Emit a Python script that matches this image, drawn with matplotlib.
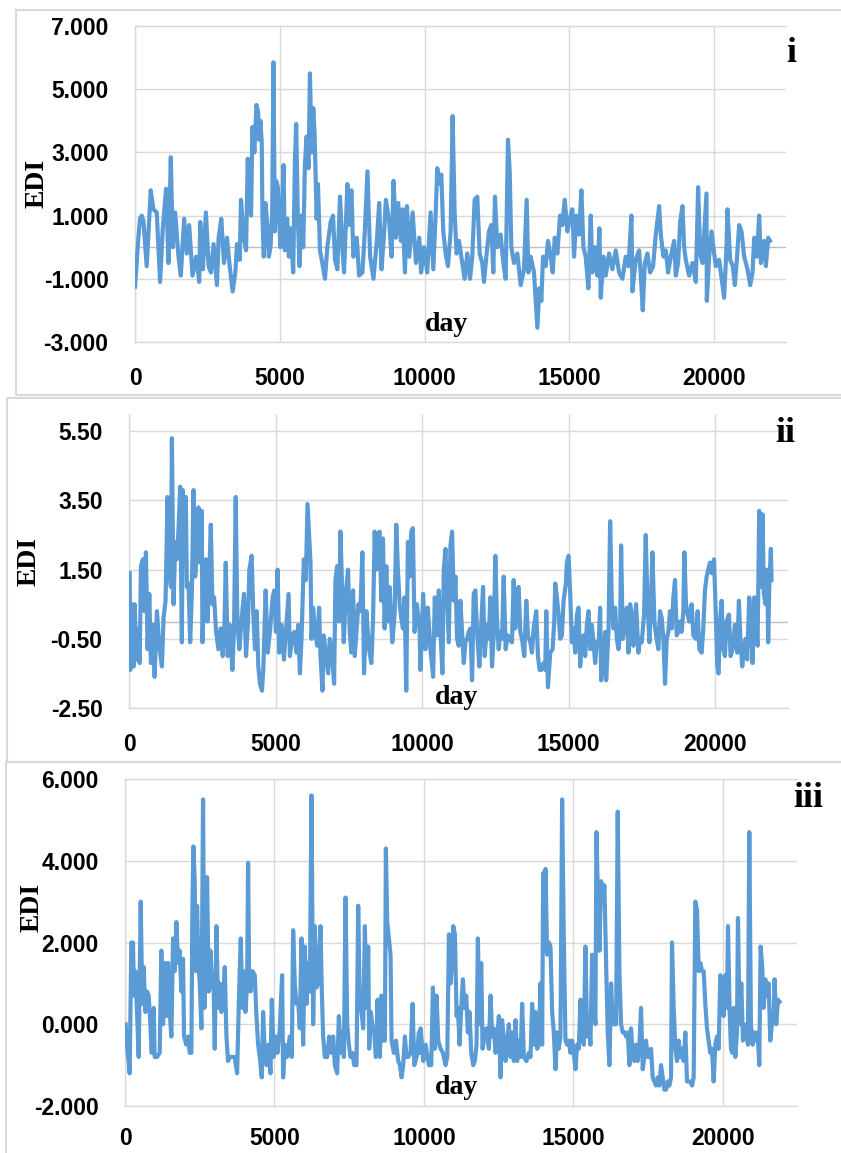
import matplotlib
matplotlib.use('Agg')
import matplotlib.pyplot as plt
from matplotlib.patches import Rectangle

# (day, EDI) pairs
edi_i = [
    (0, -1.25), (116, 0.3), (173, 0.9), (231, 1.0), (289, 0.85), (404, -0.6), (543, 1.8), (635, 1.2), (751, 1.1), (866, -1.1),
    (959, 0.6), (1074, 1.85), (1155, -0.5), (1236, 2.85), (1305, 0.0), (1386, 1.1), (1502, -0.3), (1582, -0.9), (1698, 0.9), (1790, -0.2),
    (1871, 0.7), (1987, -0.9), (2114, -0.3), (2218, -1.1), (2252, 0.8), (2345, -0.7), (2449, 1.1), (2541, -0.6), (2622, -0.8), (2714, 0.1),
    (2830, -1.2), (2888, 0.3), (2980, 0.9), (3073, -0.5), (3176, 0.3), (3269, -0.6), (3373, -1.4), (3465, -0.8), (3523, 0.1), (3615, -0.4),
    (3661, 1.5), (3754, 0.3), (3835, -0.1), (3892, 2.8), (3962, 1.5), (4008, 1.0), (4054, 3.8), (4123, 3.0), (4193, 4.5), (4250, 4.3),
    (4285, 3.4), (4331, 4.0), (4377, 3.3), (4401, 1.0), (4447, -0.3), (4505, 1.4), (4562, 0.8), (4620, -0.3), (4678, 0.0), (4736, 1.0),
    (4782, 5.85), (4828, 0.5), (4874, 2.1), (4932, 1.9), (4978, 0.8), (5024, 0.0), (5082, 1.2), (5128, 2.6), (5174, -0.1), (5255, 0.9),
    (5313, -0.3), (5371, 0.6), (5463, -0.8), (5521, 2.7), (5567, 3.9), (5625, 0.8), (5683, -0.6), (5740, 1.0), (5810, 0.0), (5867, 2.6),
    (5925, 3.5), (5994, 2.5), (6041, 5.5), (6098, 3.0), (6156, 4.4), (6202, 3.6), (6272, 0.9), (6318, 2.0), (6387, -0.1), (6468, -0.5),
    (6560, -1.0), (6641, 0.0), (6757, 0.8), (6838, 1.0), (6907, -0.4), (6988, -0.7), (7080, 1.6), (7161, 0.0), (7219, -0.8), (7334, 2.0),
    (7392, 0.7), (7473, 1.8), (7542, -0.3), (7658, 0.3), (7739, -0.9), (7854, -0.8), (7935, 0.5), (8027, 2.4), (8120, -0.3), (8235, -1.0),
    (8351, 0.2), (8432, 1.4), (8512, -0.7), (8605, 0.5), (8663, 1.5), (8778, 0.8), (8859, -0.3), (8928, 2.1), (9009, 0.3), (9090, 1.4),
    (9182, 0.2), (9240, 1.2), (9321, -0.8), (9390, 1.3), (9471, -0.3), (9587, 1.1), (9702, -0.5), (9818, 0.3), (9880, -0.8), (9977, 0.0),
    (10092, -0.8), (10207, 1.1), (10300, -0.7), (10380, 1.0), (10438, 2.5), (10495, 2.0), (10576, 2.3), (10645, 0.5), (10726, -0.2), (10806, -0.6),
    (10899, 0.5), (10968, 4.15), (11037, 1.1), (11106, -0.2), (11187, 0.2), (11302, -0.5), (11382, -1.0), (11475, -0.2), (11567, -1.0), (11647, -0.3),
    (11728, 1.5), (11820, 1.6), (11901, -0.2), (11993, -0.5), (12051, -1.1), (12143, -0.2), (12223, 0.5), (12304, 0.7), (12373, -0.8), (12431, 1.6),
    (12511, 0.0), (12627, 0.4), (12719, -0.5), (12799, -1.0), (12880, 3.4), (12938, 2.4), (12995, 0.0), (13087, -0.5), (13203, -0.2), (13318, -1.2),
    (13433, -0.7), (13525, 1.5), (13583, -0.8), (13663, -0.3), (13779, -0.8), (13894, -2.55), (13963, -1.3), (14032, -1.7), (14090, -0.3), (14182, -0.6),
    (14262, 0.2), (14355, -0.3), (14424, -0.8), (14493, 0.3), (14585, -0.2), (14677, 1.0), (14758, 0.7), (14838, 1.5), (14931, 0.5), (15011, 0.9),
    (15103, 1.2), (15161, -0.3), (15242, 1.0), (15334, 0.4), (15414, 1.8), (15484, 0.0), (15564, -0.3), (15656, -1.3), (15737, 1.0), (15795, -0.8),
    (15875, 0.0), (15967, -0.9), (16036, 0.6), (16083, -1.6), (16175, -0.3), (16255, -0.9), (16371, -0.2), (16486, -0.7), (16601, -0.1), (16716, -0.8),
    (16831, -1.0), (16946, -0.3), (17039, -0.6), (17142, 1.0), (17177, -1.4), (17292, -0.4), (17407, -0.1), (17465, -0.9), (17534, -2.0), (17603, -0.5),
    (17695, -0.2), (17788, -0.8), (17891, -0.6), (17983, 0.4), (18099, 1.3), (18156, 0.4), (18248, -0.3), (18329, -0.1), (18410, -0.8), (18502, -0.3),
    (18617, 0.2), (18675, -0.9), (18755, -0.5), (18824, 0.8), (18905, 1.3), (18962, 0.0), (19020, -0.4), (19135, -0.9), (19251, -0.5), (19366, -1.1),
    (19446, 1.9), (19516, -0.2), (19596, -0.5), (19654, 0.4), (19734, 1.7), (19746, -1.7), (19827, -0.3), (19907, 0.5), (19999, -0.2), (20057, -0.6),
    (20172, -0.4), (20287, -1.2), (20344, -1.6), (20425, 0.0), (20459, 1.2), (20551, -0.4), (20644, -0.6), (20713, -1.2), (20782, -0.4), (20863, 0.7),
    (20944, 0.5), (21036, -0.3), (21151, -0.7), (21244, -1.2), (21324, -0.8), (21382, 0.3), (21474, -0.3), (21554, 1.0), (21612, -0.5), (21727, 0.2),
    (21785, -0.6), (21866, 0.3), (21923, 0.2),
]

edi_ii = [
    (23, 1.4), (45, -1.4), (102, 0.5), (159, -1.3), (193, 0.5), (249, -1.1), (295, -0.2), (363, -1.2), (408, 1.6), (476, 1.8),
    (522, 0.3), (578, 2.0), (635, -0.8), (692, 0.8), (748, -1.2), (816, -0.1), (873, -1.6), (953, 0.3), (1043, -0.8), (1123, -1.3),
    (1179, 0.1), (1247, 0.6), (1315, 3.6), (1372, 1.5), (1429, 1.0), (1463, 5.3), (1520, 0.5), (1576, 2.3), (1633, 1.8), (1690, 2.7),
    (1746, 3.9), (1803, -0.6), (1837, 3.8), (1894, 2.2), (1939, 3.6), (1973, 1.0), (2030, 1.1), (2087, -0.6), (2143, 0.8), (2200, 3.8),
    (2257, 1.3), (2313, 2.0), (2370, 3.3), (2427, 1.7), (2483, 3.2), (2506, -0.6), (2563, 0.9), (2620, 1.8), (2676, 0.0), (2733, 1.2),
    (2790, 2.8), (2846, 0.5), (2903, 0.7), (2971, -0.3), (3050, -0.8), (3130, -0.2), (3198, -1.0), (3255, -0.2), (3300, 1.7), (3368, -1.0),
    (3436, -0.1), (3527, -1.4), (3583, -0.2), (3640, 3.6), (3697, 0.0), (3765, -0.8), (3844, 0.1), (3924, 0.8), (3992, -1.0), (4060, 0.0),
    (4105, 1.5), (4184, 1.9), (4241, 0.2), (4298, -0.8), (4355, 0.3), (4411, -1.3), (4468, -1.8), (4536, -2.0), (4581, -1.4), (4661, 0.9),
    (4729, -0.9), (4808, -0.3), (4899, 0.7), (4956, 0.9), (5012, -0.3), (5069, 1.5), (5126, -0.9), (5205, -0.1), (5284, -1.1), (5375, 0.0),
    (5443, 0.8), (5489, -1.0), (5579, -0.4), (5636, -0.3), (5715, -0.9), (5772, -0.1), (5829, -1.5), (5885, -0.5), (5965, 1.8), (6033, 1.2),
    (6090, 3.4), (6146, 2.5), (6192, 1.7), (6226, -0.5), (6282, 0.4), (6339, -0.2), (6418, -0.7), (6486, 0.4), (6532, -1.0), (6600, -2.0),
    (6645, -0.4), (6713, -0.9), (6793, -1.5), (6849, -0.5), (6917, -0.9), (6997, -1.8), (7042, 1.2), (7099, 1.6), (7167, 0.0), (7212, 2.6),
    (7269, 1.0), (7326, -0.6), (7394, 0.8), (7473, 1.5), (7530, -0.3), (7586, -0.9), (7643, 0.9), (7700, -1.0), (7757, -0.3), (7825, 0.5),
    (7893, 0.3), (7961, 2.0), (8017, -1.5), (8097, 0.3), (8187, -0.8), (8267, -1.2), (8324, 0.0), (8380, 2.6), (8437, 1.5), (8494, 2.5),
    (8550, 2.6), (8607, 0.6), (8664, 2.4), (8720, -0.2), (8777, 1.6), (8834, 0.0), (8891, 1.0), (8981, -0.6), (9061, 0.2), (9117, 2.8),
    (9174, 1.5), (9231, 0.5), (9287, 0.1), (9344, -0.2), (9401, 0.7), (9457, -2.0), (9514, 2.3), (9571, 1.3), (9628, 2.6), (9684, 2.7),
    (9741, -0.3), (9820, 0.5), (9911, -0.2),
    (9943, -1.4), (10034, 0.8), (10114, -0.8), (10193, 0.4), (10284, -0.8), (10375, -1.6), (10431, 0.7), (10511, -0.4), (10568, 0.9), (10624, -0.3),
    (10692, -1.5), (10738, 1.5), (10795, 2.1), (10851, 0.8), (10908, -0.6), (10965, 2.2), (11022, 2.6), (11078, 0.6), (11135, 1.3), (11192, -0.5),
    (11249, -0.7), (11305, 0.6), (11362, -0.3), (11419, -1.2), (11476, -0.6), (11532, -0.5), (11589, -0.3), (11646, -0.2), (11703, -1.7), (11759, 0.8),
    (11816, 0.9), (11873, -0.3), (11952, -1.3), (12020, 0.0), (12077, 1.0), (12134, -1.0), (12213, -0.1), (12270, -0.5), (12327, 0.7), (12384, -1.3),
    (12440, -0.4), (12497, 1.9), (12554, 0.0), (12611, -0.8), (12667, -0.3), (12724, -0.5), (12781, 1.3), (12849, -0.8), (12917, -0.4), (12985, -0.5),
    (13065, -0.6), (13121, 1.2), (13178, -0.2), (13235, 0.9), (13292, 1.0), (13348, -0.3), (13405, -0.5), (13484, -1.0), (13553, 0.6), (13609, -0.4),
    (13689, -0.6), (13746, -0.9), (13802, -0.2), (13893, 0.3), (13950, -1.0), (14007, -1.4), (14063, -1.4), (14143, -1.2), (14200, -1.4), (14234, 0.3),
    (14290, -1.9), (14370, -0.9), (14449, -0.8), (14506, 0.0), (14540, 1.1), (14597, 0.7), (14654, 0.2), (14710, -0.5), (14767, -0.4), (14824, 0.6),
    (14903, 1.1), (14937, 1.7), (14994, 1.9), (15051, 0.8), (15108, -0.6), (15164, -0.2), (15221, -0.9), (15278, 0.2), (15335, 0.4), (15391, -1.3),
    (15448, -0.6), (15505, -0.4), (15562, -1.0), (15618, -0.1), (15675, 0.3), (15732, -0.8), (15789, -0.1), (15845, -0.6), (15902, -1.2), (15959, -0.6),
    (16016, -0.7), (16072, 0.4), (16106, -1.7), (16186, -1.0), (16243, -0.3), (16277, -1.7), (16356, -0.3), (16413, 2.9), (16470, 0.6), (16526, -0.2),
    (16583, 0.4), (16640, -0.5), (16697, -0.8), (16753, -0.3), (16787, 2.2), (16844, -0.5), (16912, -0.2), (16980, 0.4), (17037, -0.9), (17094, 0.5),
    (17151, 0.2), (17207, -0.7), (17298, 0.5), (17378, -0.9), (17434, -0.5), (17491, -0.6), (17570, 0.2), (17627, 2.5), (17684, 0.6), (17752, -0.6),
    (17797, 0.3), (17854, 2.0), (17923, 0.0), (17979, -0.4), (18059, -0.8), (18115, 0.3), (18172, 0.1), (18229, -0.5), (18286, -1.8), (18342, -0.5),
    (18399, -0.3), (18456, 0.3), (18513, -0.2), (18569, 0.7), (18626, 1.2), (18683, -0.4), (18740, -0.3), (18796, 0.0), (18853, -0.3), (18910, 0.3),
    (18944, 2.0), (19001, 0.5), (19057, 0.2), (19114, 0.0), (19194, 0.5), (19250, -0.4), (19341, -0.5), (19398, 0.3), (19455, -0.8), (19534, -0.9),
    (19591, -0.2), (19648, 0.9), (19704, 1.3), (19761, 1.5), (19818, 1.7), (19875, 1.4), (19954, 1.8), (20011, 0.4), (20067, -1.3), (20113, -1.5),
    (20158, 0.0), (20215, 0.6), (20272, -0.8), (20329, -1.0), (20385, 0.0), (20465, 0.2), (20522, -1.0), (20590, -0.8), (20669, -0.1), (20748, -0.9),
    (20805, 0.6), (20862, -0.6), (20919, -1.3), (20975, -0.8), (21032, -0.5), (21089, -1.1), (21157, 0.7), (21214, 0.1), (21271, -1.2), (21327, 0.7),
    (21384, 0.0), (21441, -0.7), (21498, 3.2), (21554, 1.0), (21611, 3.1), (21657, 0.8), (21713, 0.5), (21770, 1.5), (21804, -0.6), (21838, 0.9),
    (21895, 2.1), (21918, 1.2),
]

edi_iii = [
    (22, 0.0), (78, -0.6), (156, -1.2), (212, 2.0), (268, 2.0), (301, 0.7), (346, 1.3), (402, 0.3), (458, -0.8), (525, 3.0),
    (580, 0.5), (625, 1.4), (681, 0.3), (737, 0.8), (792, 0.7), (848, 0.0), (893, -0.7), (960, 0.4), (993, -0.8), (1071, -0.8),
    (1161, -0.7), (1216, 1.8), (1272, 0.0), (1328, 1.5), (1384, 0.2), (1440, 1.5), (1495, 0.3), (1551, -0.3), (1607, 2.1), (1663, 1.3),
    (1719, 2.5), (1774, 1.5), (1830, 1.8), (1886, 0.8), (1942, 1.6), (1975, -0.3), (2053, -0.5), (2109, -0.3), (2165, -0.7), (2221, -0.7),
    (2254, 2.8), (2288, 4.35), (2332, 3.5), (2366, 1.3), (2411, 2.9), (2455, 1.5), (2500, 1.0), (2556, -0.1), (2611, 5.5), (2656, 0.4),
    (2701, 1.4), (2745, 3.6), (2801, 0.8), (2857, 1.8), (2913, 1.0), (2969, 0.8), (3002, -0.6), (3058, 2.4), (3114, 0.4), (3169, 1.0),
    (3225, 0.3), (3281, 0.5), (3337, 1.4), (3393, -0.3), (3448, -0.9), (3504, -0.8), (3560, -0.8), (3672, -0.8), (3750, -1.2), (3817, 0.8),
    (3873, 2.1), (3928, 0.4), (3973, 1.3), (4029, 0.3), (4085, 1.0), (4118, 3.95), (4152, 1.2), (4196, 0.8), (4263, 1.3), (4341, 1.2),
    (4397, 0.2), (4453, -0.5), (4509, -0.8), (4576, -1.3), (4620, 0.3), (4676, -0.7), (4732, -1.0), (4799, -0.5), (4866, -1.2), (4910, 0.6),
    (4977, -0.8), (5044, -0.3), (5100, -0.7), (5178, -0.1), (5256, 1.2), (5290, -1.3), (5346, -0.5), (5424, -0.8), (5513, -0.3), (5580, -0.8),
    (5625, 2.3), (5680, 1.0), (5736, 0.5), (5792, 0.6), (5848, -0.1), (5904, 2.1), (5959, -0.5), (6015, 1.9), (6071, 0.5), (6127, 1.5),
    (6183, 0.8), (6238, 5.6), (6294, 0.0), (6350, 2.4), (6406, 0.9), (6462, 1.0), (6540, 2.4), (6584, 0.8), (6629, -0.3), (6685, -0.8),
    (6763, -0.8), (6830, -0.3), (6908, -0.7), (6964, -0.3), (7020, -1.0), (7098, -1.2), (7154, 0.2), (7209, -0.7), (7265, -0.2), (7321, -0.8),
    (7377, 3.1), (7433, 0.0), (7488, -0.5), (7544, -0.8), (7611, -0.7), (7667, -1.0), (7745, -1.0), (7801, 2.9), (7857, 0.4), (7912, 0.3),
    (7968, -0.1), (8024, 2.4), (8080, 0.4), (8136, 1.9), (8169, -0.6), (8225, 0.3), (8281, -0.1), (8337, -0.2), (8392, -0.8), (8448, 0.6),
    (8526, -0.8), (8582, 0.7), (8638, -0.4), (8694, -0.4), (8727, 4.3), (8772, 2.5), (8828, 2.1), (8883, 1.7), (8917, -0.4), (8995, -0.7),
    (9062, -0.4), (9140, -0.9), (9196, -1.0), (9252, -1.3), (9307, -1.0), (9363, -0.3), (9419, -0.8), (9475, -0.8), (9553, -0.7), (9620, 0.5),
    (9676, -1.0), (9754, -0.8), (9832, -0.2), (9865, -0.7),
    (9889, -0.1), (9978, -0.9), (10056, -0.5), (10167, -1.0), (10245, -1.0), (10301, 0.9), (10368, -0.6), (10423, 0.7), (10479, -0.4), (10557, -0.6),
    (10635, -0.7), (10724, -1.0), (10780, -0.8), (10836, 2.2), (10891, 1.0), (10947, 1.6), (10980, 2.4), (11036, 2.2), (11092, 0.2), (11136, 0.4),
    (11192, -0.5), (11248, 0.4), (11303, 1.1), (11359, 0.4), (11415, 0.7), (11470, -0.2), (11526, 0.3), (11582, -0.7), (11649, -1.0), (11704, -0.9),
    (11760, -0.5), (11805, 2.1), (11860, 0.0), (11916, 1.5), (11961, -0.6), (12027, -0.3), (12094, -0.1), (12172, -0.6), (12228, 0.7), (12284, -0.3),
    (12339, -0.1), (12395, -0.7), (12451, -0.4), (12507, 0.2), (12562, -1.3), (12618, 0.1), (12674, -0.4), (12729, -0.9), (12785, -0.4), (12841, 0.0),
    (12896, -0.8), (12952, -0.2), (13008, -0.9), (13064, 0.1), (13119, -0.9), (13175, -0.4), (13231, -0.8), (13286, 0.5), (13342, -0.8), (13431, -0.9),
    (13509, -0.7), (13565, -0.8), (13621, 0.5), (13676, -0.5), (13732, 0.3), (13788, -0.6), (13843, -0.5), (13899, 1.0), (13955, -0.5), (13988, 3.7),
    (14033, 1.8), (14066, 3.8), (14122, 1.7), (14178, 2.0), (14233, 1.9), (14289, 0.3), (14345, -0.2), (14400, -1.1), (14456, -0.2), (14512, -0.6),
    (14567, -0.3), (14623, 5.5), (14679, 2.1), (14735, -0.4), (14790, -0.5), (14846, -0.4), (14902, -0.7), (14957, -0.4), (15013, -0.7), (15069, -1.1),
    (15124, -0.5), (15180, -0.6), (15236, 0.6), (15292, -0.2), (15347, -0.5), (15403, 1.9), (15459, -0.3), (15514, 0.0), (15570, -0.5), (15626, 1.7),
    (15681, 0.5), (15737, 0.0), (15771, 4.7), (15815, 3.3), (15871, 1.8), (15926, 3.5), (15982, 3.2), (16038, 3.4), (16094, 1.5), (16149, -0.2),
    (16205, -1.0), (16261, 1.0), (16316, 0.0), (16372, 0.0), (16428, 0.0), (16483, 5.2), (16539, 1.3), (16595, 0.0), (16651, -0.2), (16706, -0.2),
    (16762, -0.3), (16818, -0.2), (16873, -1.0), (16929, -0.1), (16985, -0.8), (17040, -0.9), (17096, -0.5), (17152, -0.9), (17208, -0.5), (17263, 0.4),
    (17319, -1.1), (17375, -0.8), (17430, -0.4), (17486, -0.8), (17542, -0.8), (17597, -0.6), (17653, -1.3), (17709, -1.4), (17764, -1.5), (17820, -1.3),
    (17876, -1.5), (17932, -1.0), (17987, -1.3), (18043, -1.6), (18099, -1.6), (18154, -1.4), (18210, -1.5), (18266, -1.3), (18299, 2.0), (18355, 0.4),
    (18411, -0.6), (18466, -0.9), (18522, -0.4), (18578, -0.8), (18634, -0.6), (18689, -0.9), (18745, -0.2), (18801, -1.4), (18856, -1.4), (18912, -1.4),
    (18968, -1.5), (19023, -1.3), (19079, 3.0), (19135, 2.8), (19191, 1.3), (19246, 1.5), (19302, 1.3), (19358, 1.3), (19413, 0.5), (19469, -0.1),
    (19525, -0.4), (19580, -0.7), (19636, -0.6), (19692, -1.4), (19748, -0.5), (19803, -0.3), (19859, -0.6), (19915, 1.2), (19970, 1.0), (20026, 0.2),
    (20082, 1.2), (20137, 0.4), (20171, 2.4), (20226, 0.3), (20271, -0.6), (20316, -0.7), (20360, 0.4), (20416, -0.8), (20472, -0.2), (20505, 2.6),
    (20561, 0.0), (20616, 1.0), (20672, -0.4), (20728, -0.3), (20784, 0.0), (20839, -0.5), (20884, 4.7), (20939, 0.0), (20995, -0.5), (21051, -0.2),
    (21107, -0.4), (21162, -0.2), (21218, -1.0), (21263, 1.9), (21318, 1.4), (21363, 0.4), (21419, 1.1), (21474, 0.7), (21530, 1.0), (21586, -0.4),
    (21641, 0.0), (21697, 0.2), (21730, 1.1), (21786, 0.0), (21842, 0.6), (21897, 0.55),
]

xticks = [0, 5000, 10000, 15000, 20000]
yticks_i = [-3, -1, 1, 3, 5, 7]
yticks_ii = [-2.5, -0.5, 1.5, 3.5, 5.5]
yticks_iii = [-2, 0, 2, 4, 6]

W, H = 841, 1153
LINE = '#5B9BD5'
GRID = '#D9D9D9'
SANS = 'Liberation Sans'
SERIF = 'Liberation Serif'

fig = plt.figure(figsize=(W / 100, H / 100), dpi=100)


def px(x, y):
    # pixel position (from top-left) -> figure fraction
    return x / W, 1 - y / H


def panel(data, rect, ylim, yticks, fmt, top_line, zero_line, xpad):
    left, top, right, bottom = rect
    ax = fig.add_axes([left / W, 1 - bottom / H, (right - left) / W, (bottom - top) / H])
    days = [d for d, v in data]
    vals = [v for d, v in data]
    ax.plot(days, vals, color=LINE, lw=3.0, solid_joinstyle='round', zorder=3)
    ax.set_xlim(0, 22480)
    ax.set_ylim(*ylim)
    ax.set_xticks(xticks)
    ax.set_yticks(yticks)
    ax.set_xticklabels([str(t) for t in xticks])
    ax.set_yticklabels([fmt % t for t in yticks])
    ax.grid(True, color=GRID, lw=1.0)
    ax.set_axisbelow(True)
    if zero_line:
        ax.axhline(0, color='#BFBFBF', lw=1.0, zorder=1)
    ax.spines['right'].set_visible(False)
    ax.spines['top'].set_visible(top_line)
    for s in ['left', 'bottom', 'top']:
        ax.spines[s].set_color(GRID)
        ax.spines[s].set_linewidth(1.0)
    ax.tick_params(axis='y', length=0, pad=19)
    ax.tick_params(axis='x', length=0, pad=xpad)
    for lab in ax.get_xticklabels() + ax.get_yticklabels():
        lab.set_fontfamily(SANS)
        lab.set_fontweight('bold')
        lab.set_fontsize(16.5)
    return ax


panel(edi_i, (135, 26, 786, 342), (-3, 7), yticks_i, '%.3f', True, True, 18)
panel(edi_ii, (129, 414, 788, 708), (-2.5, 6.0), yticks_ii, '%.2f', False, True, 18)
panel(edi_iii, (125, 779, 797, 1106), (-2, 6), yticks_iii, '%.3f', True, False, 15)

# axis titles and panel letters
for x, y in [(37, 184), (29, 562), (32, 907)]:
    fig.text(*px(x, y), 'EDI', family=SERIF, weight='bold', fontsize=20,
             rotation=90, ha='center', va='center')
for x, y in [(446, 331), (456, 704), (456, 1094)]:
    fig.text(*px(x, y), 'day', family=SERIF, weight='bold', fontsize=20,
             ha='center', va='baseline')
for x, y, s in [(786, 62, 'i'), (775, 442, 'ii'), (793, 807, 'iii')]:
    fig.text(*px(x, y), s, family=SERIF, weight='bold', fontsize=26,
             ha='left', va='baseline')

# light frames round each panel
for x0, y0, y1 in [(16, 10, 395), (7, 398, 762), (6, 762, 1160)]:
    fx, fy = px(x0, y1)
    fig.add_artist(Rectangle((fx, fy), (W + 10 - x0) / W, (y1 - y0) / H,
                             transform=fig.transFigure, fill=False,
                             ec=GRID, lw=1.5, clip_on=False))

plt.savefig('out.png', dpi=100)
